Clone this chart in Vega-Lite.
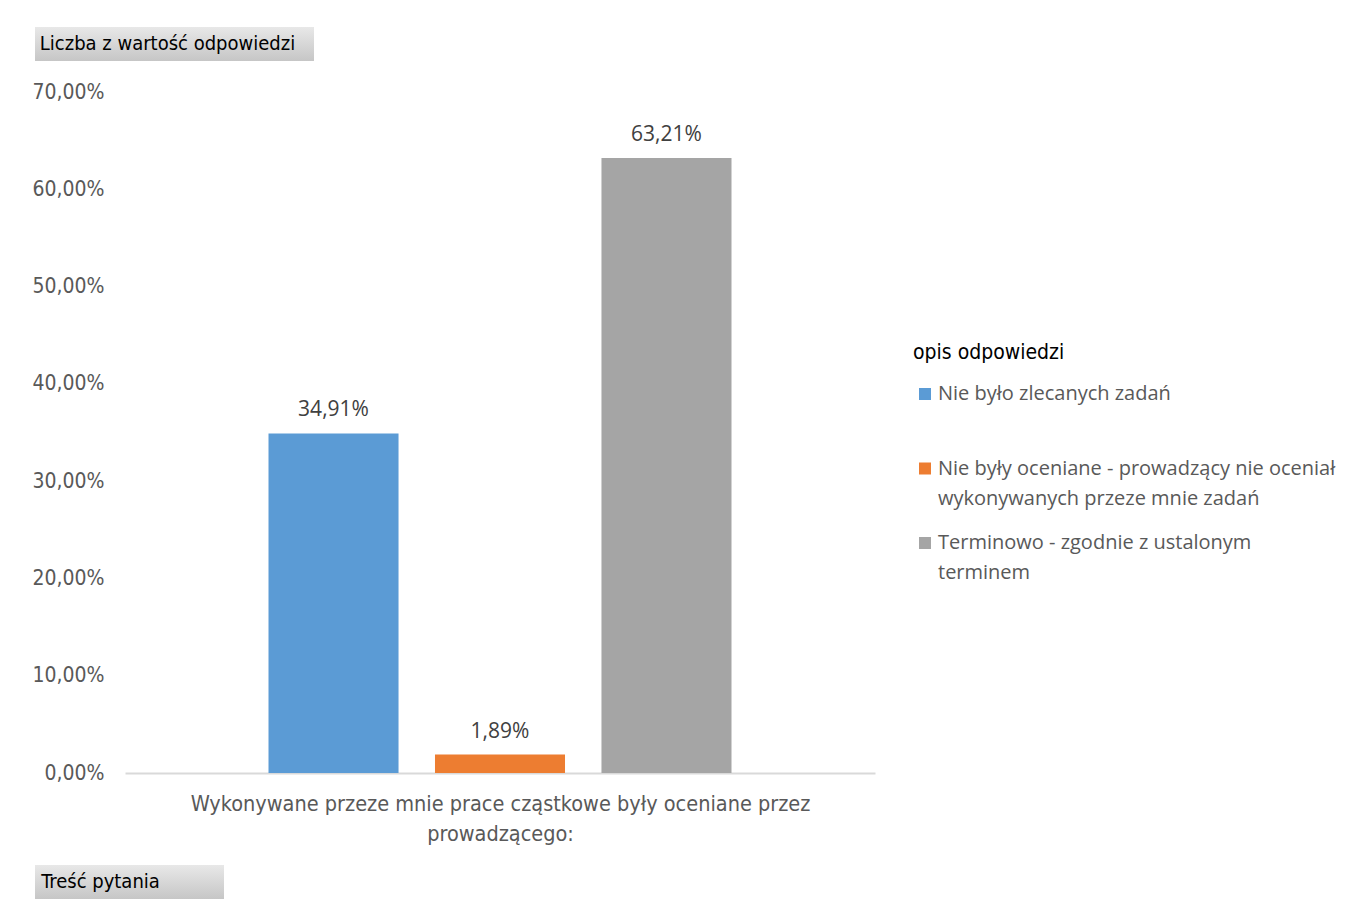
{
  "$schema": "https://vega.github.io/schema/vega-lite/v6.json",
  "background": "white",
  "padding": {"left": 31, "top": 27, "right": 0, "bottom": 10},
  "config": {
    "locale": {"number": {"decimal": ",", "thousands": " ", "grouping": [3], "currency": ["", " zł"], "percent": "%"}},
    "view": {"stroke": null},
    "style": {"guide-label": {"lineHeight": 30}}
  },
  "spacing": 20,
  "resolve": {"legend": {"color": "independent"}},
  "vconcat": [
    {
      "width": 279,
      "height": 34,
      "view": {"fill": {"gradient": "linear", "x1": 0, "y1": 0, "x2": 0, "y2": 1, "stops": [{"offset": 0, "color": "#e8e8e8"}, {"offset": 1, "color": "#c6c6c6"}]}, "stroke": null},
      "data": {"values": [{"t": "Liczba z wartość odpowiedzi"}]},
      "mark": {"type": "text", "font": "Liberation Sans Narrow, DejaVu Sans Condensed, sans-serif", "fontSize": 20, "color": "#000000", "dx": -7},
      "encoding": {"text": {"field": "t", "type": "nominal"}}
    },
    {
      "width": 840,
      "height": 681,
      "data": {"values": [
        {"opis": "Nie było zlecanych zadań", "v": 0.3491},
        {"opis": "Nie były oceniane - prowadzący nie oceniał wykonywanych przeze mnie zadań", "v": 0.0189},
        {"opis": "Terminowo - zgodnie z ustalonym terminem", "v": 0.6321}
      ]},
      "encoding": {
        "x": {
          "field": "opis", "type": "nominal", "sort": null,
          "scale": {"paddingInner": 0.219, "paddingOuter": 0.862, "range": [90, 840]},
          "axis": {
            "labels": false, "ticks": false, "domainColor": "#d9d9d9", "domainWidth": 2,
            "title": ["Wykonywane przeze mnie prace cząstkowe były oceniane przez", "prowadzącego:"],
            "titleFont": "Liberation Sans Narrow, DejaVu Sans Condensed, sans-serif",
            "titleFontSize": 21.5, "titleFontWeight": "normal", "titleColor": "#595959",
            "titlePadding": 20, "titleLineHeight": 30
          }
        },
        "y": {
          "field": "v", "type": "quantitative",
          "scale": {"domain": [0, 0.7], "nice": false},
          "axis": {
            "values": [0, 0.1, 0.2, 0.3, 0.4, 0.5, 0.6, 0.7], "format": ".2%",
            "grid": false, "domain": false, "ticks": false, "offset": -90,
            "labelFont": "Liberation Sans Narrow, DejaVu Sans Condensed, sans-serif",
            "labelFontSize": 21, "labelColor": "#595959", "labelPadding": 21, "title": null
          }
        }
      },
      "layer": [
        {
          "mark": {"type": "bar"},
          "encoding": {
            "color": {
              "field": "opis", "type": "nominal",
              "scale": {
                "domain": ["Nie było zlecanych zadań", "Nie były oceniane - prowadzący nie oceniał wykonywanych przeze mnie zadań", "Terminowo - zgodnie z ustalonym terminem"],
                "range": ["#5b9bd5", "#ed7d31", "#a5a5a5"]
              },
              "legend": {
                "orient": "none", "legendX": 878, "legendY": 250,
                "title": "opis odpowiedzi",
                "titleFont": "Liberation Sans Narrow, DejaVu Sans Condensed, sans-serif",
                "titleFontSize": 21, "titleFontWeight": "normal", "titleColor": "#000000",
                "titlePadding": 21,
                "symbolType": "square", "symbolSize": 144, "symbolStrokeWidth": 0, "symbolOffset": 2,
                "labelFont": "Open Sans", "labelFontSize": 20, "labelColor": "#595959",
                "labelOffset": 3, "labelLimit": 600, "rowPadding": 24.5,
                "labelExpr": "datum.value == 'Nie były oceniane - prowadzący nie oceniał wykonywanych przeze mnie zadań' ? ['Nie były oceniane - prowadzący nie oceniał', 'wykonywanych przeze mnie zadań'] : datum.value == 'Terminowo - zgodnie z ustalonym terminem' ? ['Terminowo - zgodnie z ustalonym', 'terminem'] : [datum.value, ' ']"
              }
            }
          }
        },
        {
          "mark": {"type": "text", "baseline": "bottom", "dy": -13, "font": "Open Sans", "fontSize": 21, "color": "#404040"},
          "encoding": {"text": {"field": "v", "type": "quantitative", "format": ".2%"}}
        }
      ]
    },
    {
      "width": 189,
      "height": 34,
      "view": {"fill": {"gradient": "linear", "x1": 0, "y1": 0, "x2": 0, "y2": 1, "stops": [{"offset": 0, "color": "#e8e8e8"}, {"offset": 1, "color": "#c6c6c6"}]}, "stroke": null},
      "data": {"values": [{"t": "Treść pytania"}]},
      "mark": {"type": "text", "font": "Liberation Sans Narrow, DejaVu Sans Condensed, sans-serif", "fontSize": 20, "color": "#000000", "dx": -29},
      "encoding": {"text": {"field": "t", "type": "nominal"}}
    }
  ]
}
